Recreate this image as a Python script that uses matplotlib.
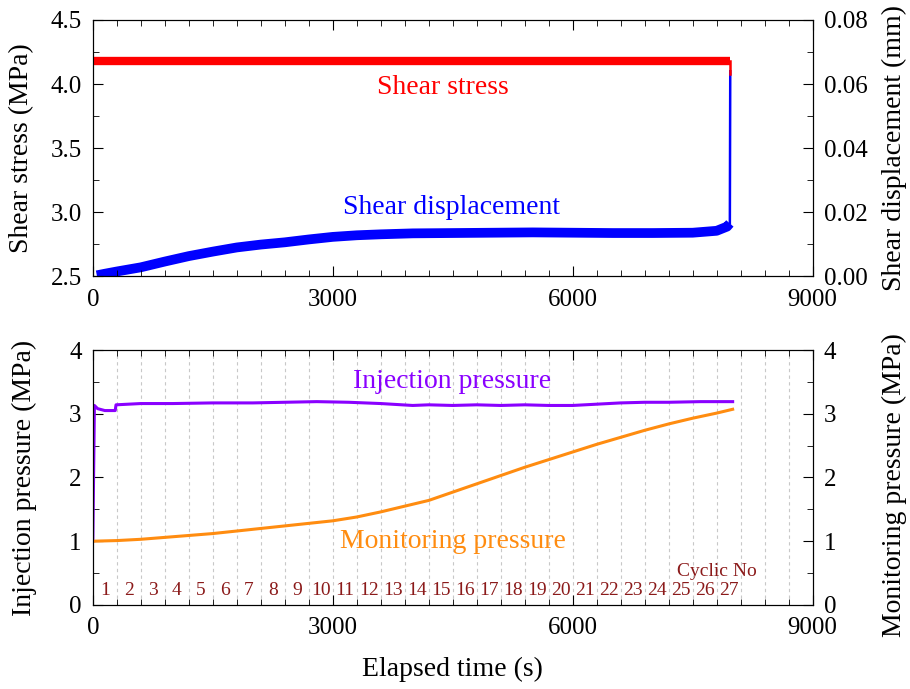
import numpy as np
import matplotlib
matplotlib.use("Agg")
import matplotlib.pyplot as plt
from matplotlib.ticker import MultipleLocator

plt.rcParams['font.family'] = ['Liberation Serif', 'DejaVu Serif']

# top panel data
stress_t = [0, 2000, 4000, 6000, 7970, 7970]
stress_v = [4.18, 4.18, 4.18, 4.18, 4.18, 4.08]

disp_t = [50, 150, 300, 600, 900, 1200, 1500, 1800, 2100, 2400, 2700, 3000,
          3300, 3600, 4000, 4500, 5000, 5500, 6000, 6500, 7000, 7500, 7800,
          7930, 7965, 7970]
disp_v = [0.0003, 0.0008, 0.0015, 0.0028, 0.0046, 0.0063, 0.0077, 0.0090,
          0.0099, 0.0106, 0.0115, 0.0123, 0.0128, 0.0131, 0.0134, 0.0135,
          0.0136, 0.0137, 0.0136, 0.0135, 0.0135, 0.0136, 0.0142, 0.0155,
          0.0165, 0.064]

# bottom panel data
inj_t = [0, 20, 60, 150, 280, 290, 600, 1000, 1500, 2000, 2400, 2800, 3200,
         3600, 4000, 4200, 4500, 4800, 5100, 5400, 5700, 6000, 6300, 6600,
         6900, 7200, 7600, 8000]
inj_v = [1.0, 3.13, 3.08, 3.05, 3.05, 3.14, 3.16, 3.16, 3.17, 3.17, 3.18, 3.19,
         3.18, 3.16, 3.13, 3.14, 3.13, 3.14, 3.13, 3.14, 3.13, 3.13, 3.15, 3.17,
         3.18, 3.18, 3.19, 3.19]

mon_t = [0, 300, 600, 900, 1200, 1500, 1800, 2100, 2400, 2700, 3000, 3300,
         3600, 3900, 4200, 4500, 4800, 5100, 5400, 5700, 6000, 6300, 6600,
         6900, 7200, 7500, 7800, 8000]
mon_v = [1.0, 1.01, 1.03, 1.06, 1.09, 1.12, 1.16, 1.20, 1.24, 1.28, 1.32, 1.38,
         1.46, 1.55, 1.64, 1.77, 1.90, 2.03, 2.16, 2.28, 2.40, 2.52, 2.63, 2.74,
         2.84, 2.93, 3.01, 3.07]

cycles = list(range(1, 28))
cycle_mid = [150 + 300 * (c - 1) for c in cycles]
cycle_edges = list(range(300, 9000, 300))

fig = plt.figure(figsize=(9.10, 6.89), dpi=100)
ax1 = fig.add_axes([0.102, 0.599, 0.791, 0.372])
ax2 = fig.add_axes([0.102, 0.122, 0.791, 0.370])

fs_tick = 18
fs_lab = 20
fs_txt = 20
red = '#ff0000'
blue = '#0000ff'
purple = '#8a00ff'
orange = '#ff8c10'
brown = '#8b1a1a'

# ---- top panel
ax1r = ax1.twinx()
ax1r.plot(disp_t[:-1], disp_v[:-1], color=blue, lw=7, solid_capstyle='butt')
ax1r.plot(disp_t[-2:], disp_v[-2:], color=blue, lw=1.8)
ax1.plot(stress_t[:-1], stress_v[:-1], color=red, lw=6, solid_capstyle='butt')
ax1.plot(stress_t[-2:], stress_v[-2:], color=red, lw=1.8)
ax1.set_zorder(ax1r.get_zorder() + 1)
ax1.patch.set_visible(False)

ax1.set_xlim(0, 9000)
ax1.set_ylim(2.5, 4.5)
ax1r.set_ylim(0, 0.08)
ax1.xaxis.set_major_locator(MultipleLocator(3000))
ax1.xaxis.set_minor_locator(MultipleLocator(300))
ax1.yaxis.set_minor_locator(MultipleLocator(0.25))
ax1r.yaxis.set_minor_locator(MultipleLocator(0.01))
ax1r.set_yticks([0, 0.02, 0.04, 0.06, 0.08])
ax1r.set_yticklabels(['0.00', '0.02', '0.04', '0.06', '0.08'])
ax1.set_yticks([2.5, 3.0, 3.5, 4.0, 4.5])
ax1.set_yticklabels(['2.5', '3.0', '3.5', '4.0', '4.5'])
ax1.set_ylabel('Shear stress (MPa)', fontsize=fs_lab)
ax1r.set_ylabel('Shear displacement (mm)', fontsize=fs_lab)
ax1.yaxis.set_label_coords(-0.082, 0.5)
ax1r.yaxis.set_label_coords(1.096, 0.5)
ax1.text(4375, 3.97, 'Shear stress', color=red, fontsize=fs_txt,
         ha='center', va='center')
ax1.text(4490, 3.04, 'Shear displacement', color=blue, fontsize=fs_txt,
         ha='center', va='center')

# ---- bottom panel
ax2r = ax2.twinx()
for e in cycle_edges:
    ax2.axvline(e, color='#c8c8c8', lw=0.8, ls=(0, (3, 3)), zorder=0)
ax2.plot(inj_t, inj_v, color=purple, lw=2.2)
ax2r.plot(mon_t, mon_v, color=orange, lw=2.2)
for c, m in zip(cycles, cycle_mid):
    ax2.text(m, 0.23, str(c), color=brown, fontsize=14,
             ha='center', va='center')
ax2.text(7800, 0.52, 'Cyclic No', color=brown, fontsize=14,
         ha='center', va='center')
ax2.text(4490, 3.51, 'Injection pressure', color=purple, fontsize=fs_txt,
         ha='center', va='center')
ax2.text(4500, 1.0, 'Monitoring pressure', color=orange, fontsize=fs_txt,
         ha='center', va='center')

ax2.set_xlim(0, 9000)
ax2.set_ylim(0, 4)
ax2r.set_ylim(0, 4)
ax2.xaxis.set_major_locator(MultipleLocator(3000))
ax2.xaxis.set_minor_locator(MultipleLocator(300))
for a in (ax2, ax2r):
    a.yaxis.set_major_locator(MultipleLocator(1))
    a.yaxis.set_minor_locator(MultipleLocator(0.5))
ax2.set_ylabel('Injection pressure (MPa)', fontsize=fs_lab)
ax2r.set_ylabel('Monitoring pressure (MPa)', fontsize=fs_lab)
ax2.set_xlabel('Elapsed time (s)', fontsize=fs_lab)
ax2.yaxis.set_label_coords(-0.078, 0.5)
ax2r.yaxis.set_label_coords(1.096, 0.47)
ax2.xaxis.set_label_coords(0.5, -0.204)

for a in (ax1, ax2):
    a.tick_params(axis='both', which='both', direction='in', top=True,
                  labelsize=fs_tick)
    a.tick_params(axis='x', which='major', pad=9)
    a.tick_params(axis='y', which='major', pad=8)
    a.tick_params(which='major', length=7)
    a.tick_params(which='minor', length=4)
for a in (ax1r, ax2r):
    a.tick_params(axis='y', which='both', direction='in', labelsize=fs_tick,
                  pad=8)
    a.tick_params(which='major', length=7)
    a.tick_params(which='minor', length=4)

fig.savefig('out.png', dpi=100)
